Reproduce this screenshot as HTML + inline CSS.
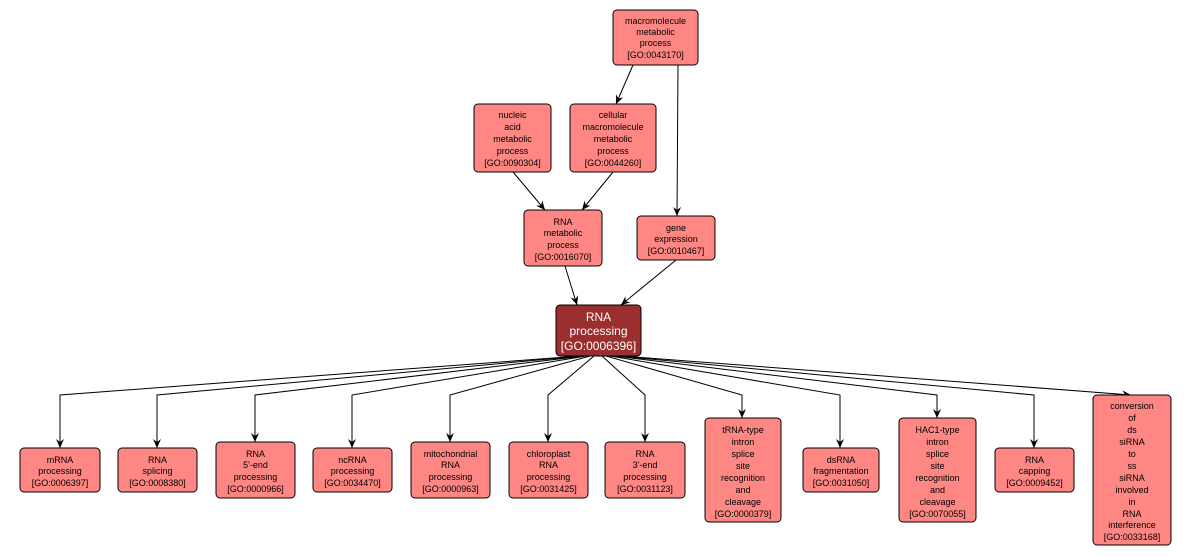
<!DOCTYPE html>
<html><head><style>
body{margin:0;background:#fff;}
svg{display:block;}
text{font-family:"Liberation Sans",sans-serif;font-size:9px;fill:#000;text-anchor:middle;}
.n{fill:#fe8784;stroke:#000;stroke-width:1;}
.m{fill:#9b2e2e;stroke:#000;stroke-width:1;}
.e{fill:none;stroke:#000;stroke-width:1;}
</style></head><body>
<svg width="1193" height="556" viewBox="0 0 1193 556">
<defs><marker id="a" markerWidth="10" markerHeight="10" refX="9" refY="5" orient="auto" markerUnits="userSpaceOnUse"><path d="M0,1 L9,5 L0,9 L3,5 z" fill="#000"/></marker></defs>
<!-- edges top -->
<path class="e" d="M633,65 L616,104" marker-end="url(#a)"/>
<path class="e" d="M678,65 L677,216" marker-end="url(#a)"/>
<path class="e" d="M513,172 L545,210" marker-end="url(#a)"/>
<path class="e" d="M613,172 L582,210" marker-end="url(#a)"/>
<path class="e" d="M565,266 L577,305" marker-end="url(#a)"/>
<path class="e" d="M676,260 L621,305" marker-end="url(#a)"/>
<!-- edges bottom -->
<path class="e" d="M580,356 L60,395 L60,448" marker-end="url(#a)"/>
<path class="e" d="M582,356 L157,395 L157,448" marker-end="url(#a)"/>
<path class="e" d="M584,356 L255,395 L255,442" marker-end="url(#a)"/>
<path class="e" d="M586,356 L352,395 L352,448" marker-end="url(#a)"/>
<path class="e" d="M590,356 L450,395 L450,442" marker-end="url(#a)"/>
<path class="e" d="M594,356 L548,395 L548,442" marker-end="url(#a)"/>
<path class="e" d="M602,356 L645,395 L645,442" marker-end="url(#a)"/>
<path class="e" d="M606,356 L742,395 L742,418" marker-end="url(#a)"/>
<path class="e" d="M610,356 L840,395 L840,448" marker-end="url(#a)"/>
<path class="e" d="M614,356 L937,395 L937,418" marker-end="url(#a)"/>
<path class="e" d="M618,356 L1034,395 L1034,448" marker-end="url(#a)"/>
<path class="e" d="M622,356 L1131,395" marker-end="url(#a)"/>
<!-- nodes -->
<rect class="n" x="613" y="10" width="85" height="55" rx="4"/>
<text x="655.5" y="24">macromolecule</text><text x="655.5" y="35">metabolic</text><text x="655.5" y="46">process</text><text x="655.5" y="58">[GO:0043170]</text>
<rect class="n" x="474" y="104" width="77" height="68" rx="4"/>
<text x="512.5" y="118">nucleic</text><text x="512.5" y="130">acid</text><text x="512.5" y="142">metabolic</text><text x="512.5" y="154">process</text><text x="512.5" y="166">[GO:0090304]</text>
<rect class="n" x="570" y="104" width="86" height="68" rx="4"/>
<text x="613" y="118">cellular</text><text x="613" y="130">macromolecule</text><text x="613" y="142">metabolic</text><text x="613" y="154">process</text><text x="613" y="166">[GO:0044260]</text>
<rect class="n" x="524" y="210" width="78" height="56" rx="4"/>
<text x="563" y="225">RNA</text><text x="563" y="236">metabolic</text><text x="563" y="248">process</text><text x="563" y="260">[GO:0016070]</text>
<rect class="n" x="637" y="216" width="78" height="44" rx="4"/>
<text x="676" y="231">gene</text><text x="676" y="242">expression</text><text x="676" y="254">[GO:0010467]</text>
<rect class="m" x="556" y="305" width="85" height="51" rx="4"/>
<text x="598.5" y="321" style="font-size:12px;fill:#fff">RNA</text><text x="598.5" y="335" style="font-size:12px;fill:#fff">processing</text><text x="598.5" y="350" style="font-size:12px;fill:#fff">[GO:0006396]</text>
<!-- bottom row -->
<rect class="n" x="20" y="448" width="80" height="44" rx="4"/>
<text x="60" y="463">mRNA</text><text x="60" y="474">processing</text><text x="60" y="486">[GO:0006397]</text>
<rect class="n" x="118" y="448" width="79" height="44" rx="4"/>
<text x="157.5" y="463">RNA</text><text x="157.5" y="474">splicing</text><text x="157.5" y="486">[GO:0008380]</text>
<rect class="n" x="216" y="442" width="79" height="56" rx="4"/>
<text x="255.5" y="457">RNA</text><text x="255.5" y="468">5'-end</text><text x="255.5" y="480">processing</text><text x="255.5" y="492">[GO:0000966]</text>
<rect class="n" x="313" y="448" width="79" height="44" rx="4"/>
<text x="352.5" y="463">ncRNA</text><text x="352.5" y="474">processing</text><text x="352.5" y="486">[GO:0034470]</text>
<rect class="n" x="411" y="442" width="79" height="56" rx="4"/>
<text x="450.5" y="457">mitochondrial</text><text x="450.5" y="468">RNA</text><text x="450.5" y="480">processing</text><text x="450.5" y="492">[GO:0000963]</text>
<rect class="n" x="509" y="442" width="79" height="56" rx="4"/>
<text x="548.5" y="457">chloroplast</text><text x="548.5" y="468">RNA</text><text x="548.5" y="480">processing</text><text x="548.5" y="492">[GO:0031425]</text>
<rect class="n" x="605" y="442" width="80" height="56" rx="4"/>
<text x="645" y="457">RNA</text><text x="645" y="468">3'-end</text><text x="645" y="480">processing</text><text x="645" y="492">[GO:0031123]</text>
<rect class="n" x="705" y="418" width="76" height="104" rx="4"/>
<text x="743" y="433">tRNA-type</text><text x="743" y="445">intron</text><text x="743" y="457">splice</text><text x="743" y="469">site</text><text x="743" y="481">recognition</text><text x="743" y="493">and</text><text x="743" y="505">cleavage</text><text x="743" y="517">[GO:0000379]</text>
<rect class="n" x="803" y="448" width="76" height="44" rx="4"/>
<text x="841" y="463">dsRNA</text><text x="841" y="474">fragmentation</text><text x="841" y="486">[GO:0031050]</text>
<rect class="n" x="899" y="418" width="77" height="104" rx="4"/>
<text x="937.5" y="433">HAC1-type</text><text x="937.5" y="445">intron</text><text x="937.5" y="457">splice</text><text x="937.5" y="469">site</text><text x="937.5" y="481">recognition</text><text x="937.5" y="493">and</text><text x="937.5" y="505">cleavage</text><text x="937.5" y="517">[GO:0070055]</text>
<rect class="n" x="995" y="448" width="79" height="44" rx="4"/>
<text x="1034.5" y="463">RNA</text><text x="1034.5" y="474">capping</text><text x="1034.5" y="486">[GO:0009452]</text>
<rect class="n" x="1093" y="395" width="78" height="150" rx="4"/>
<text x="1132" y="409">conversion</text><text x="1132" y="421">of</text><text x="1132" y="433">ds</text><text x="1132" y="445">siRNA</text><text x="1132" y="457">to</text><text x="1132" y="469">ss</text><text x="1132" y="481">siRNA</text><text x="1132" y="493">involved</text><text x="1132" y="505">in</text><text x="1132" y="517">RNA</text><text x="1132" y="528">interference</text><text x="1132" y="540">[GO:0033168]</text>
</svg>
</body></html>
